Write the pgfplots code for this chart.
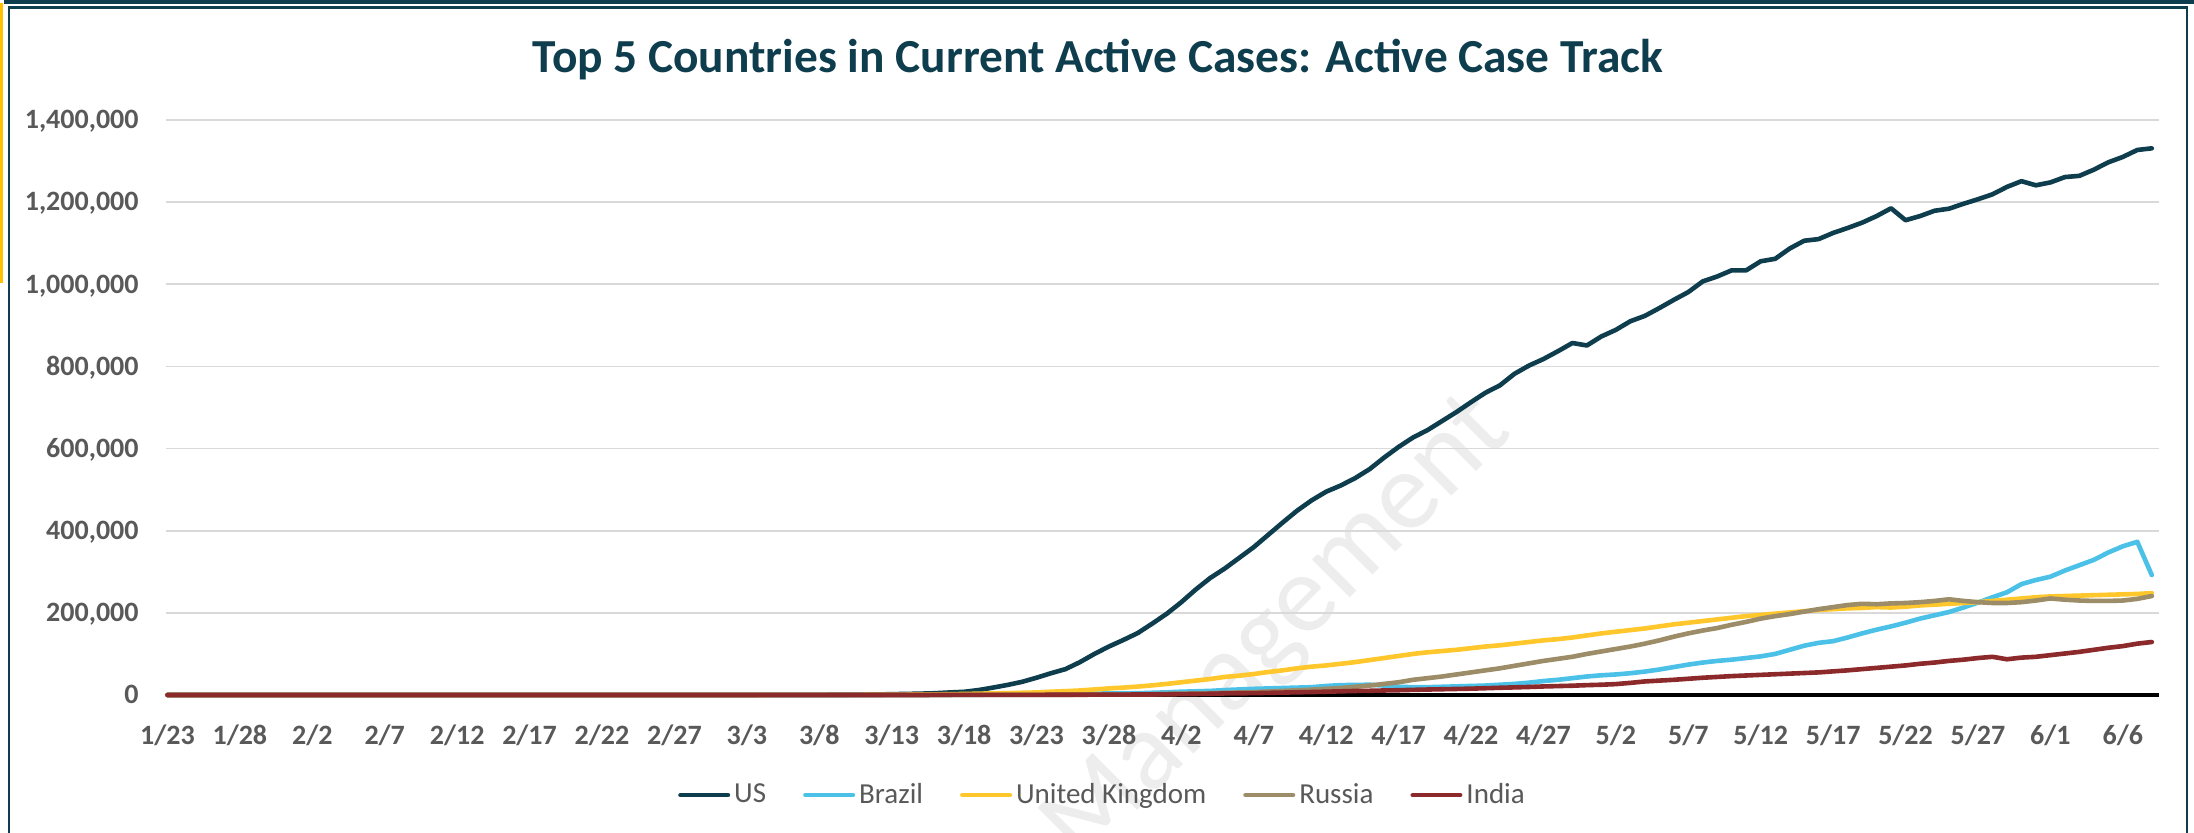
\documentclass[border=0pt]{standalone}
\usepackage{fontspec}
\setmainfont{Carlito}
\usepackage{pgfplots}
\usepackage{pgfplotstable}
\pgfplotsset{compat=1.18}
\definecolor{teal}{HTML}{0E3D4D}
\definecolor{cUS}{HTML}{0E3D4D}
\definecolor{cBR}{HTML}{4BC1E8}
\definecolor{cUK}{HTML}{FFC72C}
\definecolor{cRU}{HTML}{9C8C68}
\definecolor{cIN}{HTML}{8B292B}
\definecolor{tickgray}{HTML}{595959}
\definecolor{gridgray}{HTML}{D9D9D9}
\definecolor{gold}{HTML}{FFC000}
\pgfplotstableread{
d us br uk ru in
0 1 0 0 0 0
1 1 0 0 0 0
2 2 0 0 0 0
3 2 0 0 0 0
4 5 0 0 0 0
5 5 0 0 0 0
6 5 0 0 0 0
7 5 0 0 0 1
8 5 0 2 2 1
9 6 0 2 2 1
10 8 0 2 2 2
11 8 0 2 2 3
12 11 0 2 2 3
13 11 0 2 2 3
14 11 0 2 2 3
15 12 0 2 2 3
16 12 0 8 2 3
17 12 0 8 2 3
18 12 0 8 2 3
19 12 0 8 2 3
20 10 0 9 2 3
21 10 0 9 2 3
22 10 0 9 2 3
23 10 0 9 2 3
24 10 0 9 2 3
25 10 0 9 2 0
26 10 0 9 2 0
27 10 0 9 0 0
28 10 0 9 0 0
29 50 0 9 0 0
30 50 0 9 0 0
31 50 0 9 0 0
32 50 0 9 0 0
33 50 0 9 0 0
34 52 1 13 0 0
35 52 1 15 0 0
36 50 1 20 0 0
37 56 2 23 0 0
38 62 2 35 2 0
39 80 2 40 2 2
40 95 2 50 3 3
41 110 4 85 3 20
42 150 8 115 4 28
43 200 13 163 4 30
44 300 13 206 7 31
45 400 19 273 13 35
46 530 25 321 15 40
47 700 34 373 17 47
48 950 52 456 20 56
49 1250 77 590 25 60
50 2000 150 798 30 73
51 2600 150 1061 43 80
52 3300 200 1300 55 100
53 4300 230 1500 80 110
54 6200 290 1900 100 126
55 7700 420 2500 140 137
56 12000 600 3200 190 163
57 18000 900 3900 240 219
58 24500 1100 4500 290 296
59 32000 1500 5400 350 373
60 42000 1800 6200 420 434
61 53000 2200 8000 480 496
62 63000 2400 9300 620 562
63 80000 2900 11000 800 640
64 100000 3300 13500 1000 770
65 118000 3700 16000 1200 900
66 134000 3900 18000 1400 1000
67 151000 4200 20500 1700 1150
68 174000 5400 23500 2200 1250
69 198000 6500 27000 2700 1650
70 226000 8000 31000 3300 2100
71 257000 9000 35000 3800 2500
72 285000 10000 39000 4500 3000
73 308000 12000 44000 5400 3800
74 334000 13500 47000 6200 4200
75 360000 15000 51000 7000 4500
76 390000 16000 56000 8500 5200
77 420000 17000 60000 10000 5900
78 449000 18000 65000 11500 6500
79 474000 19000 69000 13000 7200
80 495000 22000 72000 15000 8000
81 510000 24000 76000 17000 8900
82 528000 24500 80000 20000 9800
83 550000 25000 85000 23000 10200
84 578000 23000 90000 27000 11000
85 604000 20000 95000 31000 11600
86 627000 19000 100000 37000 12500
87 645000 19000 104000 41000 13300
88 667000 20000 107000 45000 14000
89 689000 21000 110000 50000 14700
90 713000 22000 114000 55000 15400
91 736000 23000 118000 60000 16500
92 754000 25000 121000 65000 17600
93 782000 27000 125000 71000 18500
94 802000 30000 129000 77000 19500
95 818000 34000 133000 83000 20800
96 837000 37000 136000 88000 21700
97 857000 41000 140000 93000 22600
98 851000 45000 145000 100000 24000
99 873000 48000 150000 106000 25000
100 889000 50000 154000 112000 26500
101 910000 53000 158000 118000 29500
102 923000 57000 162000 125000 33000
103 942000 62000 167000 133000 35000
104 962000 68000 172000 142000 37000
105 981000 74000 176000 150000 39500
106 1007000 79000 180000 157000 42000
107 1019000 83000 184000 163000 44000
108 1034000 86000 188000 171000 46000
109 1034000 90000 192000 178000 47500
110 1056000 94000 195000 186000 49000
111 1062000 100000 198000 192000 50500
112 1087000 110000 201000 197000 52000
113 1106000 120000 204000 203000 53500
114 1110000 127000 207000 209000 55000
115 1125000 131000 209000 214000 57500
116 1137000 140000 211000 219000 60000
117 1150000 150000 212000 222000 63000
118 1166000 159000 214000 221000 66000
119 1185000 167000 213000 223000 69000
120 1156000 176000 215000 224000 72000
121 1166000 186000 218000 226000 76000
122 1179000 194000 220000 229000 79000
123 1184000 202000 222000 233000 83000
124 1196000 213000 224000 229000 86000
125 1207000 225000 226000 226000 90000
126 1219000 238000 229000 224000 93000
127 1237000 250000 232000 224000 87000
128 1251000 270000 235000 226000 91000
129 1241000 280000 238000 230000 93000
130 1248000 288000 240000 235000 97000
131 1261000 303000 241000 232000 101000
132 1264000 316000 242000 230000 105000
133 1279000 329000 243000 229000 110000
134 1297000 347000 244000 229000 115000
135 1310000 362000 245000 230000 119000
136 1327000 373000 246000 234000 125000
137 1331000 292000 248000 241000 129000
}\datatable
\begin{document}
\begin{tikzpicture}
\useasboundingbox (0pt,0pt) rectangle (1097pt,416.5pt);
\clip (0pt,0pt) rectangle (1097pt,416.5pt);
\fill[white] (0pt,0pt) rectangle (1097pt,416.5pt);
% outer decorations
\fill[gold] (0pt,275pt) rectangle (1.5pt,415pt);
\fill[teal] (2pt,414.5pt) rectangle (1097pt,416.5pt);
\draw[teal, line width=1.4pt] (4.5pt,-10pt) -- (4.5pt,412.9pt) -- (1093.5pt,412.9pt) -- (1093.5pt,-10pt);
% title
\node[anchor=base, text=teal, font=\bfseries\fontsize{23.7}{26}\selectfont, inner sep=0pt] at (549pt,380pt) {Top 5 Countries in Current Active Cases: Active Case Track};
% watermark
\node[rotate=45, text=black!7, font=\fontsize{56}{60}\selectfont, inner sep=0pt] at (640pt,101pt) {Management};
\begin{axis}[
  at={(83pt,69pt)}, anchor=south west,
  scale only axis, width=996.5pt, height=287.5pt,
  xmin=-0.1, xmax=137.5, ymin=0, ymax=1400000,
  clip=false,
  axis line style={draw=none},
  major tick length=0pt,
  ymajorgrids, major grid style={color=gridgray, line width=0.8pt},
  ytick={0,200000,...,1400000},
  scaled y ticks=false,
  /pgf/number format/.cd, fixed, precision=0, 1000 sep={,}, assume math mode=true,
  /pgfplots/.cd,
  xtick={0,5,...,135},
  xticklabels={1/23,1/28,2/2,2/7,2/12,2/17,2/22,2/27,3/3,3/8,3/13,3/18,3/23,3/28,4/2,4/7,4/12,4/17,4/22,4/27,5/2,5/7,5/12,5/17,5/22,5/27,6/1,6/6},
  ticklabel style={font=\bfseries\fontsize{14}{16}\selectfont, text=tickgray, inner sep=0pt},
  xticklabel style={anchor=base, yshift=-25pt},
  yticklabel style={anchor=base east, xshift=-13.5pt, yshift=-4.4pt},
  legend columns=5,
  legend style={at={(axis description cs:0.4704,-0.174)}, anchor=center, draw=none, fill=none,
    font=\fontsize{14.5}{16}\selectfont, text=tickgray, inner sep=0pt,
    /tikz/every even column/.append style={column sep=16.5pt},
    nodes={inner sep=2pt}},
  legend image code/.code={\draw[#1, line width=2.3pt, line cap=round] (0pt,0pt) -- (23.7pt,0pt);},
  every axis plot/.append style={line width=2.3pt, line join=round, line cap=round, mark=none},
]
\addplot[black, line width=1.6pt, line cap=butt, forget plot] coordinates {(-0.1,0) (137.5,0)};
\addplot[cUS] table[x=d, y=us] {\datatable};
\addlegendentry{US}
\addplot[cBR] table[x=d, y=br] {\datatable};
\addlegendentry{Brazil}
\addplot[cUK] table[x=d, y=uk] {\datatable};
\addlegendentry{United Kingdom}
\addplot[cRU] table[x=d, y=ru] {\datatable};
\addlegendentry{Russia}
\addplot[cIN] table[x=d, y=in] {\datatable};
\addlegendentry{India}
\end{axis}
\end{tikzpicture}
\end{document}
